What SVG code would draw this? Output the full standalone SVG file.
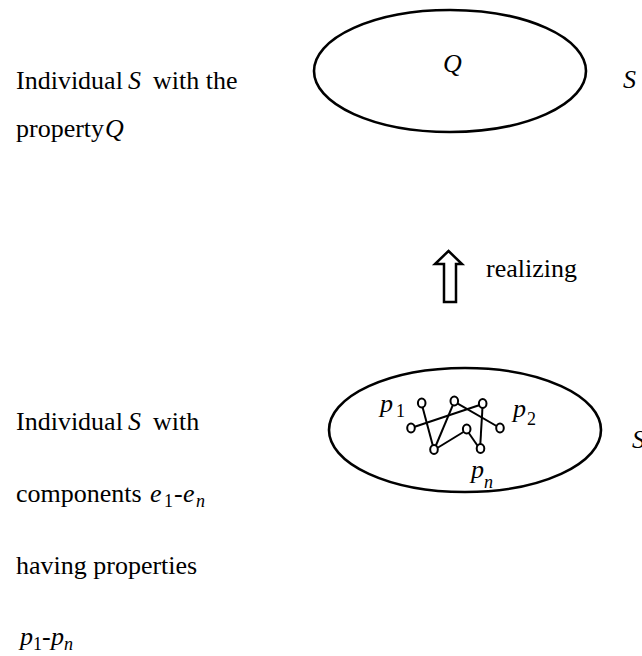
<svg xmlns="http://www.w3.org/2000/svg" width="642" height="656" viewBox="0 0 642 656">
<style>
.t{font-family:"Liberation Serif","Times New Roman",serif;font-size:26px;fill:#000}
.m{font-family:"Liberation Serif","Times New Roman",serif;font-style:italic;font-size:26px;fill:#000}
.s{font-family:"Liberation Serif","Times New Roman",serif;font-size:18px;fill:#000}
.si{font-family:"Liberation Serif","Times New Roman",serif;font-style:italic;font-size:18px;fill:#000}
.ell{fill:none;stroke:#000;stroke-width:2.6}
.ed{stroke:#000;stroke-width:2;fill:none}
.c{fill:#fff;stroke:#000;stroke-width:2}
</style>
<rect width="642" height="656" fill="#fff"/>
<g id="label-top">
<text class="t" x="16" y="89">Individual</text>
<text class="m" x="128" y="89">S</text>
<text class="t" x="153" y="89">with the</text>
<text class="t" x="16" y="137">property</text>
<text class="m" x="105" y="137">Q</text>
</g>
<g id="node-top">
<ellipse class="ell" cx="450" cy="71" rx="136" ry="61"/>
<text class="m" x="443" y="72">Q</text>
<text class="m" x="623" y="88">S</text>
</g>
<g id="connectors">
<path d="M448.5 251 L462 264 L456 264 L456 302 L444 302 L444 264 L435 264 Z" fill="#fff" stroke="#000" stroke-width="2.5" stroke-linejoin="miter"/>
<text class="t" x="486" y="277">realizing</text>
</g>
<g id="node-bottom">
<ellipse class="ell" cx="465" cy="430" rx="136" ry="62"/>
<g id="network">
<line class="ed" x1="421.7" y1="404" x2="434" y2="450"/>
<line class="ed" x1="411" y1="428" x2="482.7" y2="404"/>
<line class="ed" x1="454.3" y1="401.7" x2="434" y2="450"/>
<line class="ed" x1="454.3" y1="401.7" x2="500" y2="428"/>
<line class="ed" x1="434" y1="450" x2="466.7" y2="430"/>
<line class="ed" x1="466.7" y1="430" x2="480" y2="449.3"/>
<line class="ed" x1="482.7" y1="404" x2="480" y2="449.3"/>
<ellipse class="c" cx="421.7" cy="403" rx="3.8" ry="4.5"/>
<ellipse class="c" cx="454.3" cy="401" rx="3.8" ry="4.5"/>
<ellipse class="c" cx="482.7" cy="403.5" rx="3.8" ry="4.5"/>
<ellipse class="c" cx="411" cy="428" rx="3.8" ry="4.5"/>
<ellipse class="c" cx="466.7" cy="429" rx="3.8" ry="4.5"/>
<ellipse class="c" cx="500" cy="428" rx="3.8" ry="4.5"/>
<ellipse class="c" cx="434" cy="449.5" rx="3.8" ry="4.5"/>
<ellipse class="c" cx="480.5" cy="448.5" rx="3.8" ry="4.5"/>
</g>
<text class="m" x="380" y="412">p</text><text class="s" x="396" y="417">1</text>
<text class="m" x="513" y="417">p</text><text class="s" x="527" y="425">2</text>
<text class="m" x="471" y="478">p</text><text class="si" x="484" y="488">n</text>
<text class="m" x="632" y="448">S</text>
</g>
<g id="label-bottom">
<text class="t" x="16" y="430">Individual</text>
<text class="m" x="128" y="430">S</text>
<text class="t" x="153" y="430">with</text>
<text class="t" x="16" y="502">components</text>
<text class="m" x="150" y="502">e</text><text class="s" x="164" y="507">1</text><text class="t" x="174" y="502">-</text><text class="m" x="183" y="502">e</text><text class="si" x="196" y="507">n</text>
<text class="t" x="16" y="574">having properties</text>
<text class="m" x="20" y="645">p</text><text class="s" x="33" y="650">1</text><text class="t" x="42" y="645">-</text><text class="m" x="51" y="645">p</text><text class="si" x="64" y="650">n</text>
</g>
</svg>
